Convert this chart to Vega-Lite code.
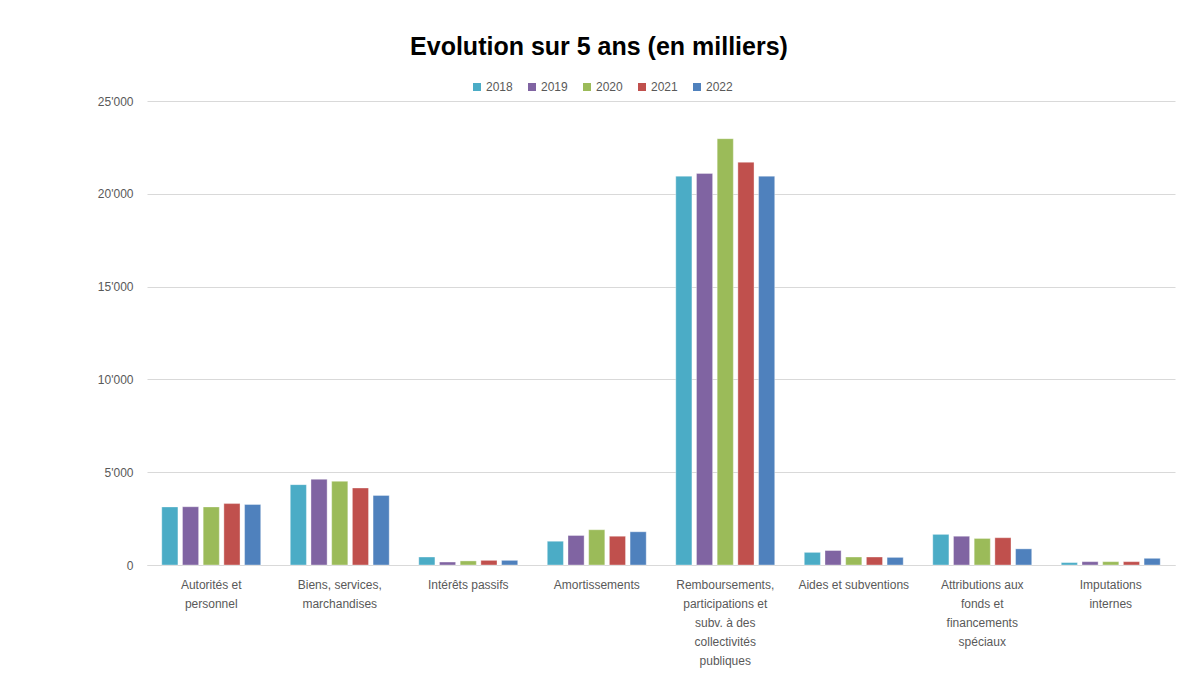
{
  "$schema": "https://vega.github.io/schema/vega-lite/v6.json",
  "width": 1028,
  "height": 464,
  "autosize": {"type": "none"},
  "padding": {"left": 147, "top": 101, "right": 4, "bottom": 114},
  "background": "white",
  "title": {
    "text": "Evolution sur 5 ans (en milliers)",
    "font": "Liberation Sans",
    "fontSize": 25,
    "fontWeight": "bold",
    "color": "#000000",
    "anchor": "middle",
    "frame": "group",
    "dx": -62,
    "offset": 21
  },
  "data": {
    "values": [
      {"categorie": "Autorités et\npersonnel", "annee": "2018", "valeur": 3130},
      {"categorie": "Autorités et\npersonnel", "annee": "2019", "valeur": 3140},
      {"categorie": "Autorités et\npersonnel", "annee": "2020", "valeur": 3130},
      {"categorie": "Autorités et\npersonnel", "annee": "2021", "valeur": 3310},
      {"categorie": "Autorités et\npersonnel", "annee": "2022", "valeur": 3260},
      {"categorie": "Biens, services,\nmarchandises", "annee": "2018", "valeur": 4330},
      {"categorie": "Biens, services,\nmarchandises", "annee": "2019", "valeur": 4620},
      {"categorie": "Biens, services,\nmarchandises", "annee": "2020", "valeur": 4510},
      {"categorie": "Biens, services,\nmarchandises", "annee": "2021", "valeur": 4150},
      {"categorie": "Biens, services,\nmarchandises", "annee": "2022", "valeur": 3750},
      {"categorie": "Intérêts passifs", "annee": "2018", "valeur": 430},
      {"categorie": "Intérêts passifs", "annee": "2019", "valeur": 160},
      {"categorie": "Intérêts passifs", "annee": "2020", "valeur": 220},
      {"categorie": "Intérêts passifs", "annee": "2021", "valeur": 250},
      {"categorie": "Intérêts passifs", "annee": "2022", "valeur": 250},
      {"categorie": "Amortissements", "annee": "2018", "valeur": 1280},
      {"categorie": "Amortissements", "annee": "2019", "valeur": 1590},
      {"categorie": "Amortissements", "annee": "2020", "valeur": 1900},
      {"categorie": "Amortissements", "annee": "2021", "valeur": 1550},
      {"categorie": "Amortissements", "annee": "2022", "valeur": 1790},
      {"categorie": "Remboursements,\nparticipations et\nsubv. à des\ncollectivités\npubliques", "annee": "2018", "valeur": 20950},
      {"categorie": "Remboursements,\nparticipations et\nsubv. à des\ncollectivités\npubliques", "annee": "2019", "valeur": 21100},
      {"categorie": "Remboursements,\nparticipations et\nsubv. à des\ncollectivités\npubliques", "annee": "2020", "valeur": 22970},
      {"categorie": "Remboursements,\nparticipations et\nsubv. à des\ncollectivités\npubliques", "annee": "2021", "valeur": 21700},
      {"categorie": "Remboursements,\nparticipations et\nsubv. à des\ncollectivités\npubliques", "annee": "2022", "valeur": 20950},
      {"categorie": "Aides et subventions", "annee": "2018", "valeur": 680},
      {"categorie": "Aides et subventions", "annee": "2019", "valeur": 780},
      {"categorie": "Aides et subventions", "annee": "2020", "valeur": 430},
      {"categorie": "Aides et subventions", "annee": "2021", "valeur": 430},
      {"categorie": "Aides et subventions", "annee": "2022", "valeur": 410},
      {"categorie": "Attributions aux\nfonds et\nfinancements\nspéciaux", "annee": "2018", "valeur": 1650},
      {"categorie": "Attributions aux\nfonds et\nfinancements\nspéciaux", "annee": "2019", "valeur": 1550},
      {"categorie": "Attributions aux\nfonds et\nfinancements\nspéciaux", "annee": "2020", "valeur": 1430},
      {"categorie": "Attributions aux\nfonds et\nfinancements\nspéciaux", "annee": "2021", "valeur": 1470},
      {"categorie": "Attributions aux\nfonds et\nfinancements\nspéciaux", "annee": "2022", "valeur": 870},
      {"categorie": "Imputations\ninternes", "annee": "2018", "valeur": 130},
      {"categorie": "Imputations\ninternes", "annee": "2019", "valeur": 180},
      {"categorie": "Imputations\ninternes", "annee": "2020", "valeur": 180},
      {"categorie": "Imputations\ninternes", "annee": "2021", "valeur": 180},
      {"categorie": "Imputations\ninternes", "annee": "2022", "valeur": 360}
    ]
  },
  "mark": {"type": "bar", "stroke": "white", "strokeWidth": 0.6, "strokeOpacity": 0.6},
  "encoding": {
    "x": {
      "field": "categorie",
      "type": "nominal",
      "sort": null,
      "scale": {"paddingInner": 0.23, "paddingOuter": 0.115},
      "axis": {
        "title": null,
        "labelAngle": 0,
        "labelExpr": "split(datum.label, '\\n')",
        "labelFont": "Liberation Sans",
        "labelFontSize": 12,
        "labelColor": "#595959",
        "labelLineHeight": 19,
        "labelPadding": 14,
        "labelLimit": 0,
        "ticks": false,
        "domainColor": "#d9d9d9",
        "domainWidth": 1
      }
    },
    "xOffset": {
      "field": "annee",
      "type": "nominal",
      "scale": {"paddingInner": 0.22, "paddingOuter": 0.0}
    },
    "y": {
      "field": "valeur",
      "type": "quantitative",
      "scale": {"domain": [0, 25000], "nice": false},
      "axis": {
        "title": null,
        "values": [0, 5000, 10000, 15000, 20000, 25000],
        "labelExpr": "replace(format(datum.value, ','), ',', \"'\")",
        "labelFont": "Liberation Sans",
        "labelFontSize": 12,
        "labelColor": "#595959",
        "labelPadding": 14,
        "ticks": false,
        "domain": false,
        "grid": true,
        "gridColor": "#d9d9d9",
        "gridWidth": 1
      }
    },
    "color": {
      "field": "annee",
      "type": "nominal",
      "scale": {
        "domain": ["2018", "2019", "2020", "2021", "2022"],
        "range": ["#4BACC6", "#8064A2", "#9BBB59", "#C0504D", "#4F81BD"]
      },
      "legend": {
        "title": null,
        "orient": "none",
        "direction": "horizontal",
        "legendX": 324,
        "legendY": -20,
        "symbolType": "square",
        "symbolSize": 64,
        "symbolStrokeWidth": 0,
        "labelFont": "Liberation Sans",
        "labelFontSize": 12,
        "labelColor": "#595959",
        "labelOffset": 3,
        "columnPadding": 13
      }
    }
  },
  "config": {
    "view": {"stroke": null}
  }
}
